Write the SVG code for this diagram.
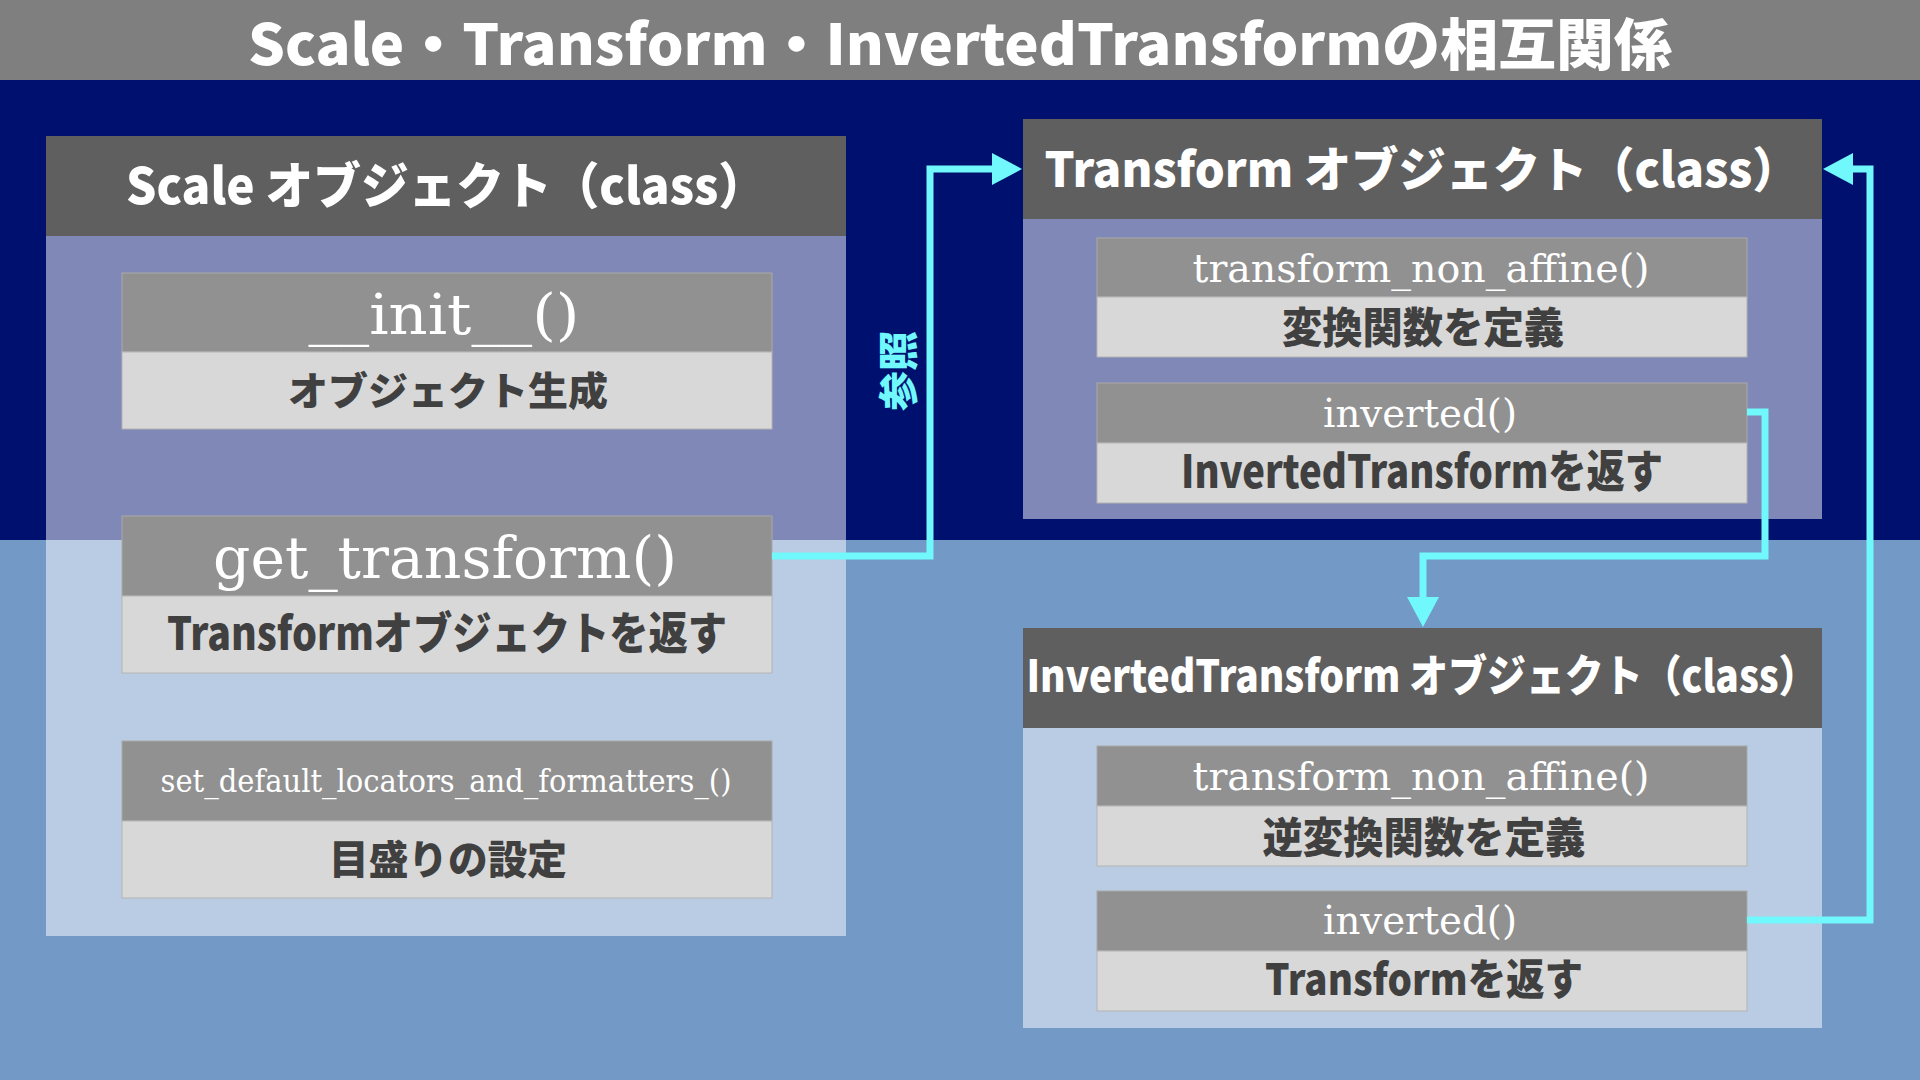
<svg xmlns="http://www.w3.org/2000/svg" width="1920" height="1080" viewBox="0 0 1920 1080">
  <style>
    .cjk { font-family: "Noto Sans CJK JP", "Noto Sans", sans-serif; font-weight: 900; }
    .title { fill: #ffffff; text-anchor: middle; }
    .hdr { fill: #5f5f5f; }
    .body { fill: #ffffff; fill-opacity: 0.5; }
    .mh { fill: #919191; stroke: #a9a9a9; stroke-width: 1; }
    .mb { fill: #d8d8d8; stroke: #b4b4b4; stroke-width: 1; }
    .mname { font-family: "DejaVu Serif", "Liberation Serif", serif; fill: #ffffff; text-anchor: middle; }
    .mdesc { fill: #404040; text-anchor: middle; }
    .conn { fill: none; stroke: #70f8fc; stroke-width: 7; stroke-linejoin: miter; }
    .head { fill: #70f8fc; }
  </style>

  <!-- backgrounds -->
  <rect x="0" y="0" width="1920" height="80" fill="#7f7f7f"/>
  <rect x="0" y="80" width="1920" height="460" fill="#00106e"/>
  <rect x="0" y="540" width="1920" height="540" fill="#7399c6"/>
  <text class="cjk title" x="960" y="65" font-size="56" textLength="1424" lengthAdjust="spacingAndGlyphs">Scale・Transform・InvertedTransformの相互関係</text>

  <!-- Scale object -->
  <g id="scale">
    <rect class="hdr" x="46" y="136" width="800" height="100"/>
    <rect class="body" x="46" y="236" width="800" height="700"/>
    <text class="cjk title" x="446" y="204" font-size="50" textLength="640" lengthAdjust="spacingAndGlyphs">Scale オブジェクト（class）</text>
    <g id="scale-init">
      <rect class="mh" x="122" y="273" width="650" height="79"/>
      <rect class="mb" x="122" y="352" width="650" height="77"/>
      <text class="mname" x="444" y="334" font-size="56" textLength="271" lengthAdjust="spacingAndGlyphs">__init__()</text>
      <text class="cjk mdesc" x="448" y="405" font-size="39" textLength="320" lengthAdjust="spacingAndGlyphs">オブジェクト生成</text>
    </g>
    <g id="scale-get-transform">
      <rect class="mh" x="122" y="516" width="650" height="80"/>
      <rect class="mb" x="122" y="596" width="650" height="77"/>
      <text class="mname" x="445" y="578" font-size="58" textLength="464" lengthAdjust="spacingAndGlyphs">get_transform()</text>
      <text class="cjk mdesc" x="447" y="650" font-size="45" textLength="560" lengthAdjust="spacingAndGlyphs">Transformオブジェクトを返す</text>
    </g>
    <g id="scale-set-default">
      <rect class="mh" x="122" y="741" width="650" height="80"/>
      <rect class="mb" x="122" y="821" width="650" height="77"/>
      <text class="mname" x="446" y="792" font-size="32" textLength="571" lengthAdjust="spacingAndGlyphs">set_default_locators_and_formatters_()</text>
      <text class="cjk mdesc" x="448" y="874" font-size="40" textLength="238" lengthAdjust="spacingAndGlyphs">目盛りの設定</text>
    </g>
  </g>

  <!-- Transform object -->
  <g id="transform">
    <rect class="hdr" x="1023" y="119" width="799" height="100"/>
    <rect class="body" x="1023" y="219" width="799" height="300"/>
    <text class="cjk title" x="1422" y="187" font-size="48" textLength="755" lengthAdjust="spacingAndGlyphs">Transform オブジェクト（class）</text>
    <g id="transform-non-affine">
      <rect class="mh" x="1097" y="238" width="650" height="59"/>
      <rect class="mb" x="1097" y="297" width="650" height="60"/>
      <text class="mname" x="1421" y="282" font-size="40" textLength="457" lengthAdjust="spacingAndGlyphs">transform_non_affine()</text>
      <text class="cjk mdesc" x="1423" y="343" font-size="42" textLength="282" lengthAdjust="spacingAndGlyphs">変換関数を定義</text>
    </g>
    <g id="transform-inverted">
      <rect class="mh" x="1097" y="383" width="650" height="60"/>
      <rect class="mb" x="1097" y="443" width="650" height="60"/>
      <text class="mname" x="1420" y="427" font-size="40" textLength="194" lengthAdjust="spacingAndGlyphs">inverted()</text>
      <text class="cjk mdesc" x="1422" y="488" font-size="45" textLength="482" lengthAdjust="spacingAndGlyphs">InvertedTransformを返す</text>
    </g>
  </g>

  <!-- InvertedTransform object -->
  <g id="inverted-transform">
    <rect class="hdr" x="1023" y="628" width="799" height="100"/>
    <rect class="body" x="1023" y="728" width="799" height="300"/>
    <text class="cjk title" x="1422" y="692" font-size="44" textLength="791" lengthAdjust="spacingAndGlyphs">InvertedTransform オブジェクト（class）</text>
    <g id="inverted-non-affine">
      <rect class="mh" x="1097" y="746" width="650" height="60"/>
      <rect class="mb" x="1097" y="806" width="650" height="60"/>
      <text class="mname" x="1421" y="790" font-size="40" textLength="457" lengthAdjust="spacingAndGlyphs">transform_non_affine()</text>
      <text class="cjk mdesc" x="1424" y="853" font-size="42" textLength="323" lengthAdjust="spacingAndGlyphs">逆変換関数を定義</text>
    </g>
    <g id="inverted-inverted">
      <rect class="mh" x="1097" y="891" width="650" height="60"/>
      <rect class="mb" x="1097" y="951" width="650" height="60"/>
      <text class="mname" x="1420" y="934" font-size="40" textLength="194" lengthAdjust="spacingAndGlyphs">inverted()</text>
      <text class="cjk mdesc" x="1424" y="995" font-size="43" textLength="318" lengthAdjust="spacingAndGlyphs">Transformを返す</text>
    </g>
  </g>

  <!-- connectors -->
  <g id="connectors">
    <polyline class="conn" points="772,556 930,556 930,169 993,169"/>
    <polygon class="head" points="992,153 1022,169 992,185"/>
    <text class="cjk" fill="#70f8fc" font-size="40" text-anchor="middle" transform="translate(898,371) rotate(-90)" x="0" y="15">参照</text>

    <polyline class="conn" points="1747,412 1765,412 1765,556 1423,556 1423,598"/>
    <polygon class="head" points="1407,597 1439,597 1423,627"/>

    <polyline class="conn" points="1747,920 1870,920 1870,169 1852,169"/>
    <polygon class="head" points="1853,153 1823,169 1853,185"/>
  </g>
</svg>
